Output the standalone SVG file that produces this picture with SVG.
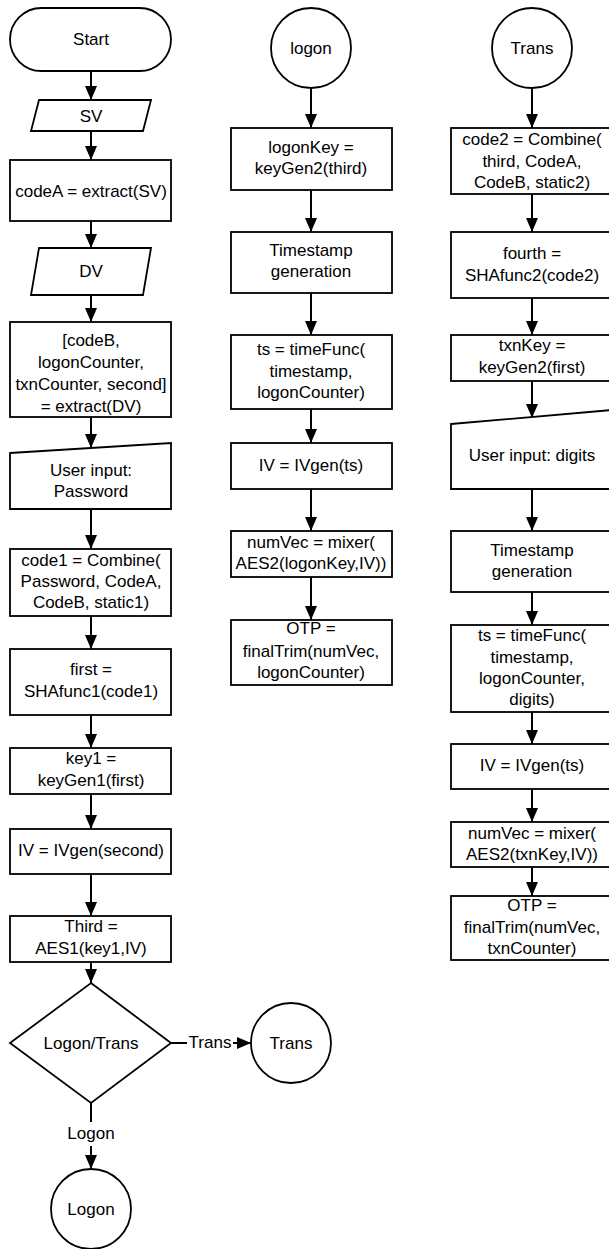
<svg xmlns="http://www.w3.org/2000/svg" width="609" height="1249" viewBox="0 0 609 1249">
<style>
.s{fill:#fff;stroke:#000;stroke-width:1.8}
.t{font-family:"Liberation Sans",Arial,sans-serif;font-size:17px;fill:#000;text-anchor:middle}
.c{fill:none;stroke:#000;stroke-width:2}
</style>
<defs>
<marker id="ah" markerUnits="userSpaceOnUse" markerWidth="14" markerHeight="12" refX="14" refY="6" orient="auto"><path d="M0,0 L14,6 L0,12 z" fill="#000"/></marker>
</defs>
<rect width="609" height="1249" fill="#fff"/>
<g id="connectors">
<line class="c" x1="91" y1="71" x2="91" y2="100" marker-end="url(#ah)"/>
<line class="c" x1="91" y1="131" x2="91" y2="160" marker-end="url(#ah)"/>
<line class="c" x1="91" y1="221" x2="91" y2="248" marker-end="url(#ah)"/>
<line class="c" x1="91" y1="295" x2="91" y2="322" marker-end="url(#ah)"/>
<line class="c" x1="91" y1="417" x2="91" y2="448" marker-end="url(#ah)"/>
<line class="c" x1="91" y1="509" x2="91" y2="549" marker-end="url(#ah)"/>
<line class="c" x1="91" y1="608" x2="91" y2="649" marker-end="url(#ah)"/>
<line class="c" x1="91" y1="707" x2="91" y2="748" marker-end="url(#ah)" stroke-width="2.6"/>
<line class="c" x1="91" y1="794" x2="91" y2="829" marker-end="url(#ah)"/>
<line class="c" x1="91" y1="874" x2="91" y2="916" marker-end="url(#ah)"/>
<line class="c" x1="91" y1="962" x2="91" y2="983" marker-end="url(#ah)"/>
<line class="c" x1="171" y1="1043" x2="187" y2="1043"/>
<line class="c" x1="233" y1="1043" x2="251" y2="1043" marker-end="url(#ah)"/>
<text class="t" x="210" y="1048">Trans</text>
<line class="c" x1="91" y1="1103" x2="91" y2="1122"/>
<line class="c" x1="91" y1="1146" x2="91" y2="1169" marker-end="url(#ah)"/>
<text class="t" x="91" y="1139">Logon</text>
<line class="c" x1="311" y1="88" x2="311" y2="128" marker-end="url(#ah)"/>
<line class="c" x1="311" y1="190" x2="311" y2="232" marker-end="url(#ah)"/>
<line class="c" x1="311" y1="293" x2="311" y2="335" marker-end="url(#ah)"/>
<line class="c" x1="311" y1="409" x2="311" y2="443" marker-end="url(#ah)"/>
<line class="c" x1="311" y1="489" x2="311" y2="531" marker-end="url(#ah)"/>
<line class="c" x1="311" y1="577" x2="311" y2="620" marker-end="url(#ah)"/>
<line class="c" x1="532" y1="88" x2="532" y2="128" marker-end="url(#ah)"/>
<line class="c" x1="532" y1="194" x2="532" y2="232" marker-end="url(#ah)"/>
<line class="c" x1="532" y1="298" x2="532" y2="335" marker-end="url(#ah)"/>
<line class="c" x1="532" y1="381" x2="532" y2="418" marker-end="url(#ah)"/>
<line class="c" x1="532" y1="489" x2="532" y2="531" marker-end="url(#ah)"/>
<line class="c" x1="532" y1="592" x2="532" y2="625" marker-end="url(#ah)"/>
<line class="c" x1="532" y1="712" x2="532" y2="744" marker-end="url(#ah)"/>
<line class="c" x1="532" y1="789" x2="532" y2="822" marker-end="url(#ah)"/>
<line class="c" x1="532" y1="867" x2="532" y2="896" marker-end="url(#ah)"/>
</g>
<g id="start"><rect class="s" x="10" y="8" width="161" height="63" rx="31.5"/><text class="t" x="91" y="45">Start</text></g>
<g id="sv"><polygon class="s" points="39,100 151,100 143,131 31,131"/><text class="t" x="91" y="122">SV</text></g>
<g id="codeA"><rect class="s" x="10" y="160" width="161" height="61"/><text class="t" x="91" y="197">codeA = extract(SV)</text></g>
<g id="dv"><polygon class="s" points="39,248 151,248 143,295 31,295"/><text class="t" x="91" y="277">DV</text></g>
<g id="extractDV"><rect class="s" x="10" y="322" width="161" height="95"/><text class="t" x="91"><tspan x="91" y="346">[codeB,</tspan><tspan x="91" y="368">logonCounter,</tspan><tspan x="91" y="390">txnCounter, second]</tspan><tspan x="91" y="412">= extract(DV)</tspan></text></g>
<g id="password"><polygon class="s" points="10,453 171,443 171,509 10,509"/><text class="t" x="91"><tspan x="91" y="476">User input:</tspan><tspan x="91" y="497">Password</tspan></text></g>
<g id="code1"><rect class="s" x="10" y="549" width="161" height="67"/><text class="t" x="91"><tspan x="91" y="566">code1 = Combine(</tspan><tspan x="91" y="587">Password, CodeA,</tspan><tspan x="91" y="608">CodeB, static1)</tspan></text></g>
<g id="first"><rect class="s" x="10" y="649" width="161" height="66"/><text class="t" x="91"><tspan x="91" y="675">first =</tspan><tspan x="91" y="697">SHAfunc1(code1)</tspan></text></g>
<g id="key1"><rect class="s" x="10" y="748" width="161" height="46"/><text class="t" x="91"><tspan x="91" y="764">key1 =</tspan><tspan x="91" y="786">keyGen1(first)</tspan></text></g>
<g id="ivSecond"><rect class="s" x="10" y="829" width="161" height="45"/><text class="t" x="91" y="856">IV = IVgen(second)</text></g>
<g id="third"><rect class="s" x="10" y="916" width="161" height="46"/><text class="t" x="91"><tspan x="91" y="932">Third =</tspan><tspan x="91" y="954">AES1(key1,IV)</tspan></text></g>
<g id="decision"><polygon class="s" points="91,983 171,1043 91,1103 10,1043"/><text class="t" x="91" y="1049">Logon/Trans</text></g>
<g id="transRef"><circle class="s" cx="291" cy="1043" r="40"/><text class="t" x="291" y="1049">Trans</text></g>
<g id="logonRef"><circle class="s" cx="91" cy="1209" r="40"/><text class="t" x="91" y="1215">Logon</text></g>
<g id="logonStart"><circle class="s" cx="311" cy="48" r="40"/><text class="t" x="311" y="54">logon</text></g>
<g id="logonKey"><rect class="s" x="231" y="128" width="161" height="62"/><text class="t" x="311"><tspan x="311" y="153">logonKey =</tspan><tspan x="311" y="174">keyGen2(third)</tspan></text></g>
<g id="ts1"><rect class="s" x="231" y="232" width="161" height="61"/><text class="t" x="311"><tspan x="311" y="256">Timestamp</tspan><tspan x="311" y="277">generation</tspan></text></g>
<g id="tf1"><rect class="s" x="231" y="335" width="161" height="74"/><text class="t" x="311"><tspan x="311" y="355">ts = timeFunc(</tspan><tspan x="311" y="377">timestamp,</tspan><tspan x="311" y="398">logonCounter)</tspan></text></g>
<g id="iv1"><rect class="s" x="231" y="443" width="161" height="46"/><text class="t" x="311" y="471">IV = IVgen(ts)</text></g>
<g id="nv1"><rect class="s" x="231" y="531" width="161" height="46"/><text class="t" x="311"><tspan x="311" y="548">numVec = mixer(</tspan><tspan x="311" y="569">AES2(logonKey,IV))</tspan></text></g>
<g id="otp1"><rect class="s" x="231" y="620" width="161" height="65"/><text class="t" x="311"><tspan x="311" y="634">OTP =</tspan><tspan x="311" y="657">finalTrim(numVec,</tspan><tspan x="311" y="678">logonCounter)</tspan></text></g>
<g id="transStart"><circle class="s" cx="532" cy="48" r="40"/><text class="t" x="532" y="54">Trans</text></g>
<g id="code2"><rect class="s" x="451" y="128" width="161" height="66"/><text class="t" x="532"><tspan x="532" y="145">code2 = Combine(</tspan><tspan x="532" y="167">third, CodeA,</tspan><tspan x="532" y="188">CodeB, static2)</tspan></text></g>
<g id="fourth"><rect class="s" x="451" y="232" width="161" height="66"/><text class="t" x="532"><tspan x="532" y="259">fourth =</tspan><tspan x="532" y="281">SHAfunc2(code2)</tspan></text></g>
<g id="txnKey"><rect class="s" x="451" y="335" width="161" height="46"/><text class="t" x="532"><tspan x="532" y="351">txnKey =</tspan><tspan x="532" y="373">keyGen2(first)</tspan></text></g>
<g id="digits"><polygon class="s" points="451,424 612,410 612,489 451,489"/><text class="t" x="532" y="461">User input: digits</text></g>
<g id="ts2"><rect class="s" x="451" y="531" width="161" height="61"/><text class="t" x="532"><tspan x="532" y="556">Timestamp</tspan><tspan x="532" y="577">generation</tspan></text></g>
<g id="tf2"><rect class="s" x="451" y="625" width="161" height="87"/><text class="t" x="532"><tspan x="532" y="641">ts = timeFunc(</tspan><tspan x="532" y="663">timestamp,</tspan><tspan x="532" y="684">logonCounter,</tspan><tspan x="532" y="705">digits)</tspan></text></g>
<g id="iv2"><rect class="s" x="451" y="744" width="161" height="45"/><text class="t" x="532" y="771">IV = IVgen(ts)</text></g>
<g id="nv2"><rect class="s" x="451" y="822" width="161" height="45"/><text class="t" x="532"><tspan x="532" y="839">numVec = mixer(</tspan><tspan x="532" y="860">AES2(txnKey,IV))</tspan></text></g>
<g id="otp2"><rect class="s" x="451" y="896" width="161" height="64"/><text class="t" x="532"><tspan x="532" y="911">OTP =</tspan><tspan x="532" y="933">finalTrim(numVec,</tspan><tspan x="532" y="954">txnCounter)</tspan></text></g>
</svg>
